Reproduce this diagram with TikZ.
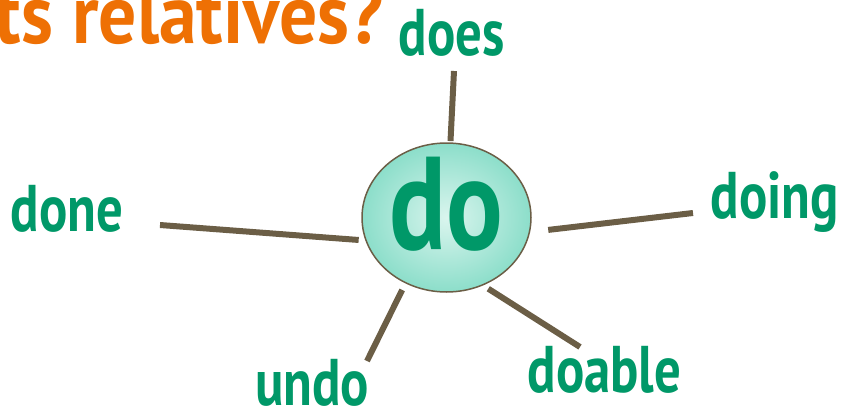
\documentclass[tikz,border=0pt]{standalone}
\usepackage{fontspec}
\usetikzlibrary{shapes.geometric,shadings}
\newfontfamily\wordfont[FakeStretch=0.8]{PT Sans}
\newfontfamily\titlefont[FakeStretch=0.9]{PT Sans}
\definecolor{wordgreen}{RGB}{0,152,104}
\definecolor{titleorange}{RGB}{238,112,4}
\definecolor{linkbrown}{RGB}{107,94,70}
\definecolor{bubblein}{RGB}{218,245,238}
\definecolor{bubbleout}{RGB}{140,222,202}
\tikzset{
  word/.style={anchor=base, inner sep=0, text=wordgreen, font=\wordfont\bfseries\fontsize{66}{66}\selectfont},
  link/.style={draw=linkbrown, line width=6pt}
}
\begin{document}
\begin{tikzpicture}[x=1pt,y=-1pt]
\useasboundingbox (0,0) rectangle (844,410);
\clip (0,0) rectangle (844,410);
\node[anchor=base east, inner sep=0, text=titleorange, font=\titlefont\bfseries\fontsize{84}{84}\selectfont] (title) at (384,43) {ts relatives?};
\node[ellipse, draw=linkbrown, line width=1.5pt, inner color=bubblein, outer color=bubbleout, minimum width=169pt, minimum height=149pt, inner sep=0, outer sep=0, text=wordgreen, font=\wordfont\bfseries\fontsize{132}{132}\selectfont] (do) at (446.5,217.5) {\raisebox{-31.5pt}[0pt][0pt]{do}};
\node[word] (does) at (451.5,55) {does};
\node[word] (done) at (67,231) {done};
\node[word] (doing) at (775,218) {doing};
\node[word] (undo) at (312,405) {undo};
\node[word] (doable) at (604.5,392) {doable};
\coordinate (doesEnd) at (454,71);
\coordinate (doneEnd) at (160,225);
\coordinate (doingEnd) at (693,213);
\coordinate (undoEnd) at (367,361);
\coordinate (doableEnd) at (580,347);
\draw[link, shorten <=2pt] (do.87) -- (doesEnd);
\draw[link, shorten <=7.5pt] (do.196) -- (doneEnd);
\draw[link, shorten <=19pt] (do.350) -- (doingEnd);
\draw[link, shorten <=8pt] (do.238) -- (undoEnd);
\draw[link, shorten <=7pt] (do.298) -- (doableEnd);
\end{tikzpicture}
\end{document}
